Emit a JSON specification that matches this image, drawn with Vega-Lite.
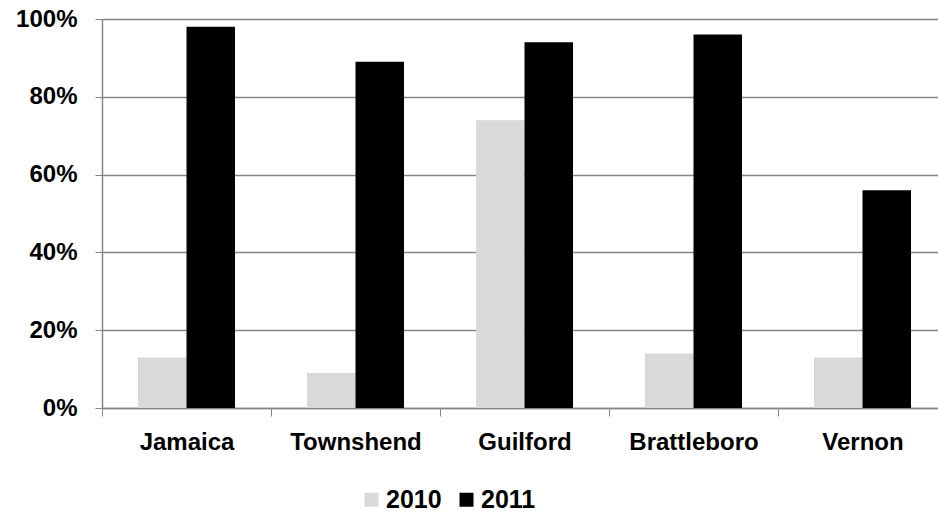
{
  "$schema": "https://vega.github.io/schema/vega-lite/v6.json",
  "width": 836,
  "height": 389,
  "autosize": {"type": "none"},
  "padding": {"left": 102, "top": 19, "right": 0, "bottom": 107},
  "config": {"view": {"stroke": null}, "font": "Liberation Sans"},
  "data": {
    "values": [
      {"town": "Jamaica", "year": "2010", "value": 0.13},
      {"town": "Jamaica", "year": "2011", "value": 0.98},
      {"town": "Townshend", "year": "2010", "value": 0.09},
      {"town": "Townshend", "year": "2011", "value": 0.89},
      {"town": "Guilford", "year": "2010", "value": 0.74},
      {"town": "Guilford", "year": "2011", "value": 0.94},
      {"town": "Brattleboro", "year": "2010", "value": 0.14},
      {"town": "Brattleboro", "year": "2011", "value": 0.96},
      {"town": "Vernon", "year": "2010", "value": 0.13},
      {"town": "Vernon", "year": "2011", "value": 0.56}
    ]
  },
  "mark": {"type": "bar"},
  "encoding": {
    "x": {
      "field": "town",
      "type": "nominal",
      "sort": null,
      "scale": {"range": [0, 845], "paddingInner": 0, "paddingOuter": 0},
      "axis": {
        "title": null,
        "tickBand": "extent",
        "labelAngle": 0,
        "labelFontSize": 24,
        "labelFontWeight": "bold",
        "labelColor": "#000000",
        "labelPadding": 14,
        "tickSize": 8,
        "tickColor": "#868686",
        "domainColor": "#868686",
        "domainWidth": 1.5,
        "grid": false
      }
    },
    "xOffset": {
      "field": "year",
      "type": "nominal",
      "scale": {"paddingInner": 0, "paddingOuter": 0.742}
    },
    "y": {
      "field": "value",
      "type": "quantitative",
      "scale": {"domain": [0, 1]},
      "axis": {
        "title": null,
        "format": ".0%",
        "values": [0, 0.2, 0.4, 0.6, 0.8, 1],
        "grid": true,
        "gridColor": "#868686",
        "gridWidth": 1.5,
        "domainColor": "#868686",
        "domainWidth": 1.5,
        "tickColor": "#868686",
        "tickSize": 7,
        "labelPadding": 18,
        "labelFontSize": 24,
        "labelFontWeight": "bold",
        "labelColor": "#000000"
      }
    },
    "color": {
      "field": "year",
      "type": "nominal",
      "scale": {"domain": ["2010", "2011"], "range": ["#d9d9d9", "#000000"]},
      "legend": {
        "title": null,
        "orient": "none",
        "direction": "horizontal",
        "legendX": 257,
        "legendY": 468,
        "symbolType": "square",
        "symbolSize": 196,
        "symbolStrokeWidth": 0,
        "symbolOpacity": 1,
        "labelFontSize": 25,
        "labelFontWeight": "bold",
        "labelColor": "#000000",
        "labelOffset": 2,
        "columnPadding": 12
      }
    }
  }
}
